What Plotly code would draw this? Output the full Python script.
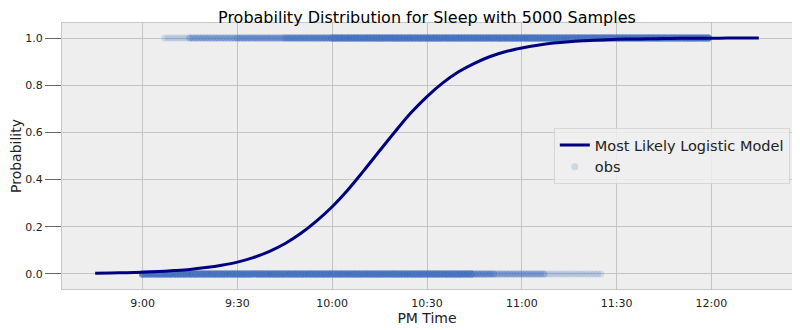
import plotly.graph_objects as go

# Fitted logistic curve, minutes after 9:00 PM and probability
curve_minutes = [-15, -10, -5, 0, 5, 10, 15, 20, 25, 30, 35, 40, 45, 50, 55, 60, 65, 70,
                 75, 80, 85, 90, 95, 100, 105, 110, 115, 120, 125, 130, 135, 140, 145,
                 150, 155, 160, 165, 170, 175, 180, 185, 190, 195]
curve_prob = [0.003, 0.004, 0.005, 0.007, 0.010, 0.014, 0.019, 0.027, 0.037, 0.050,
              0.069, 0.095, 0.128, 0.171, 0.224, 0.285, 0.357, 0.438, 0.522, 0.605,
              0.684, 0.752, 0.810, 0.857, 0.893, 0.922, 0.943, 0.958, 0.970, 0.979,
              0.985, 0.989, 0.992, 0.995, 0.996, 0.997, 0.998, 0.999, 0.999, 0.999,
              1.000, 1.000, 1.000]

# Observations: (first minute, last minute, observations per minute)
asleep_segments = [(7, 14, 1), (15, 29, 3), (30, 44, 4), (45, 59, 6), (60, 179, 10)]
awake_segments = [(0, 104, 10), (105, 111, 5), (112, 127, 3), (128, 145, 1)]

tick_minutes = [0, 30, 60, 90, 120, 150, 180]
tick_labels = ['9:00', '9:30', '10:00', '10:30', '11:00', '11:30', '12:00']

obs_x, obs_y = [], []
for state, segments in [(1, asleep_segments), (0, awake_segments)]:
    for start, end, n in segments:
        for m in range(start, end + 1):
            obs_x += [m] * n
            obs_y += [state] * n

font = 'DejaVu Sans, Arial, sans-serif'

fig = go.Figure()
fig.add_trace(go.Scatter(x=obs_x, y=obs_y, mode='markers', name='obs',
                         marker=dict(size=7, color='#4672c0', opacity=0.18,
                                     line=dict(width=0)),
                         legendrank=2))
fig.add_trace(go.Scatter(x=curve_minutes, y=curve_prob, mode='lines',
                         name='Most Likely Logistic Model',
                         line=dict(color='navy', width=3, shape='spline'),
                         legendrank=1))

# page body has an 8px margin, so the figure is 8px smaller than the window
fig.update_layout(
    width=792, height=322,
    margin=dict(l=54, r=8, t=15, b=41, autoexpand=False),
    paper_bgcolor='white', plot_bgcolor='#eeeeee',
    font=dict(family=font, size=11, color='#222222'),
    title=dict(text='Probability Distribution for Sleep with 5000 Samples',
               x=0.529, xanchor='center', y=0.971, yanchor='middle',
               font=dict(size=16, color='black')),
    legend=dict(x=0.997, xanchor='right', y=0.5, yanchor='middle',
                bgcolor='rgba(238,238,238,0.85)', bordercolor='#d6d6d6',
                borderwidth=1, font=dict(size=14.5, color='#222222')),
    showlegend=True,
)
fig.update_xaxes(range=[-25.5, 205.5], tickvals=tick_minutes, ticktext=tick_labels,
                 automargin=False,
                 showgrid=True, gridcolor='#c4c4c4', gridwidth=1, zeroline=False,
                 showline=True, linecolor='#c8c8c8', mirror=True,
                 ticks='outside', ticklen=4, tickcolor='rgba(0,0,0,0)',
                 title=dict(text='PM Time', font=dict(size=14, color='#222222'), standoff=3))
fig.update_yaxes(range=[-0.064, 1.064], tickvals=[0, 0.2, 0.4, 0.6, 0.8, 1.0],
                 tickformat='.1f', automargin=False,
                 showgrid=True, gridcolor='#c4c4c4', gridwidth=1,
                 zeroline=False, showline=True, linecolor='#c8c8c8', mirror=True,
                 ticks='outside', ticklen=16, tickcolor='#666666',
                 title=dict(text='Probability', font=dict(size=14, color='#222222'), standoff=4))

fig.write_html('out.html')
